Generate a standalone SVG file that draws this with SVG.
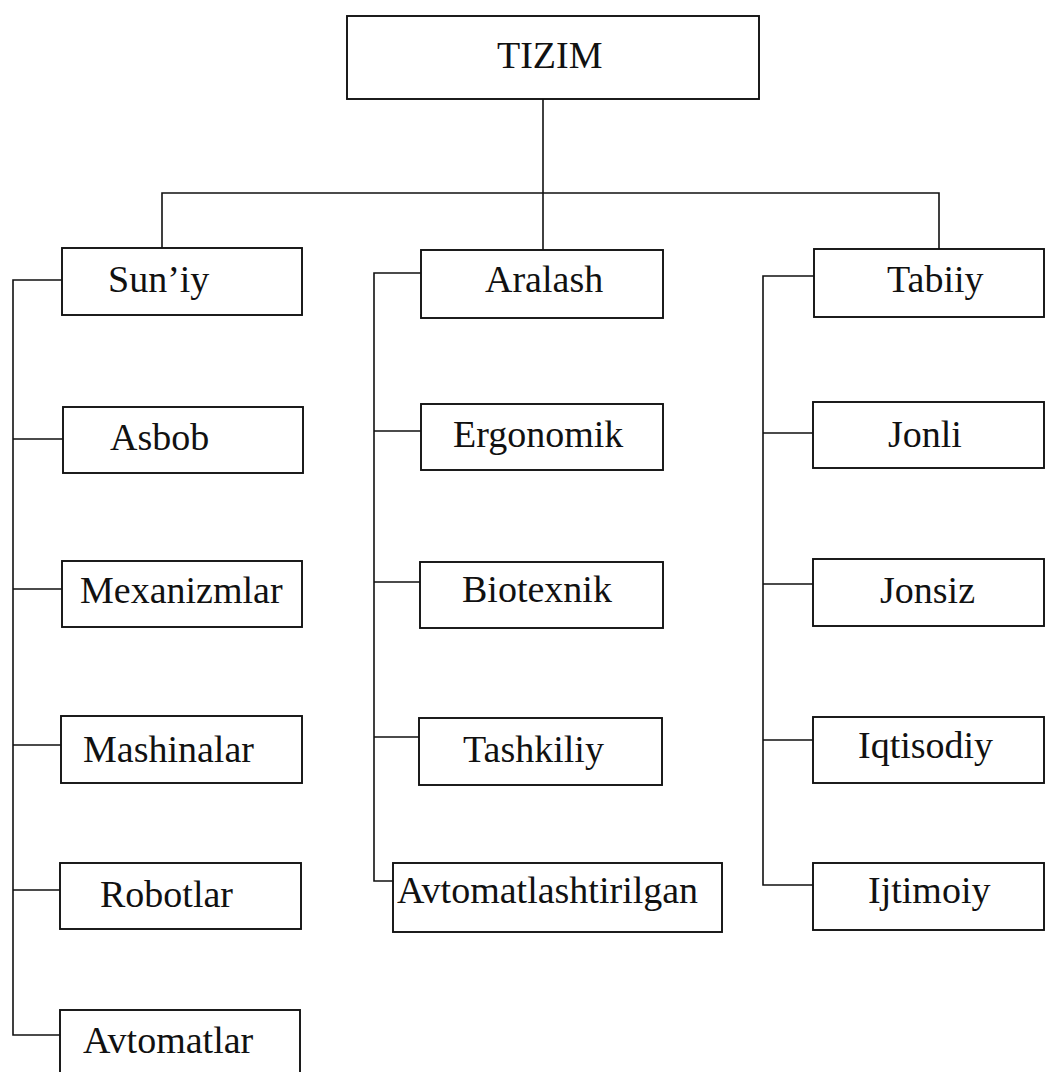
<svg xmlns="http://www.w3.org/2000/svg" width="1046" height="1072" viewBox="0 0 1046 1072">
<style>
.box{fill:#fff;stroke:#111;stroke-width:1.9}
.lbl{font-family:"Liberation Serif","Times New Roman",serif;font-size:38px;fill:#111}
.con{fill:none;stroke:#111;stroke-width:1.6}
</style>
<rect width="1046" height="1072" fill="#fff"/>
<g id="connectors" class="con">
<path d="M543 99V250"/>
<path d="M162 248V193H939V249"/>
<path d="M62 280H13V1035H60"/>
<path d="M13 439H63M13 589H62M13 745H61M13 890H60"/>
<path d="M421 273H374V881H393"/>
<path d="M374 431H421M374 582H420M374 737H419"/>
<path d="M814 276H763V885H813"/>
<path d="M763 433H813M763 584H813M763 740H813"/>
</g>
<g id="tizim"><rect class="box" x="347" y="16" width="412" height="83"/><text class="lbl" x="497" y="68">TIZIM</text></g>
<g id="suniy"><rect class="box" x="62" y="248" width="240" height="67"/><text class="lbl" x="108" y="292">Sun’iy</text></g>
<g id="asbob"><rect class="box" x="63" y="407" width="240" height="66"/><text class="lbl" x="110" y="450">Asbob</text></g>
<g id="mexanizmlar"><rect class="box" x="62" y="561" width="240" height="66"/><text class="lbl" x="80" y="603">Mexanizmlar</text></g>
<g id="mashinalar"><rect class="box" x="61" y="716" width="241" height="67"/><text class="lbl" x="83" y="762">Mashinalar</text></g>
<g id="robotlar"><rect class="box" x="60" y="863" width="241" height="66"/><text class="lbl" x="100" y="907">Robotlar</text></g>
<g id="avtomatlar"><rect class="box" x="60" y="1010" width="240" height="70"/><text class="lbl" x="83" y="1053">Avtomatlar</text></g>
<g id="aralash"><rect class="box" x="421" y="250" width="242" height="68"/><text class="lbl" x="485" y="292">Aralash</text></g>
<g id="ergonomik"><rect class="box" x="421" y="404" width="242" height="66"/><text class="lbl" x="453" y="447">Ergonomik</text></g>
<g id="biotexnik"><rect class="box" x="420" y="562" width="243" height="66"/><text class="lbl" x="462" y="602">Biotexnik</text></g>
<g id="tashkiliy"><rect class="box" x="419" y="718" width="243" height="67"/><text class="lbl" x="463" y="762">Tashkiliy</text></g>
<g id="avtomatlashtirilgan"><rect class="box" x="393" y="863" width="329" height="69"/><text class="lbl" x="397" y="903">Avtomatlashtirilgan</text></g>
<g id="tabiiy"><rect class="box" x="814" y="249" width="230" height="68"/><text class="lbl" x="887" y="292">Tabiiy</text></g>
<g id="jonli"><rect class="box" x="813" y="402" width="231" height="66"/><text class="lbl" x="888" y="447">Jonli</text></g>
<g id="jonsiz"><rect class="box" x="813" y="559" width="231" height="67"/><text class="lbl" x="880" y="603">Jonsiz</text></g>
<g id="iqtisodiy"><rect class="box" x="813" y="717" width="231" height="66"/><text class="lbl" x="858" y="758">Iqtisodiy</text></g>
<g id="ijtimoiy"><rect class="box" x="813" y="863" width="231" height="67"/><text class="lbl" x="868" y="903">Ijtimoiy</text></g>
</svg>
